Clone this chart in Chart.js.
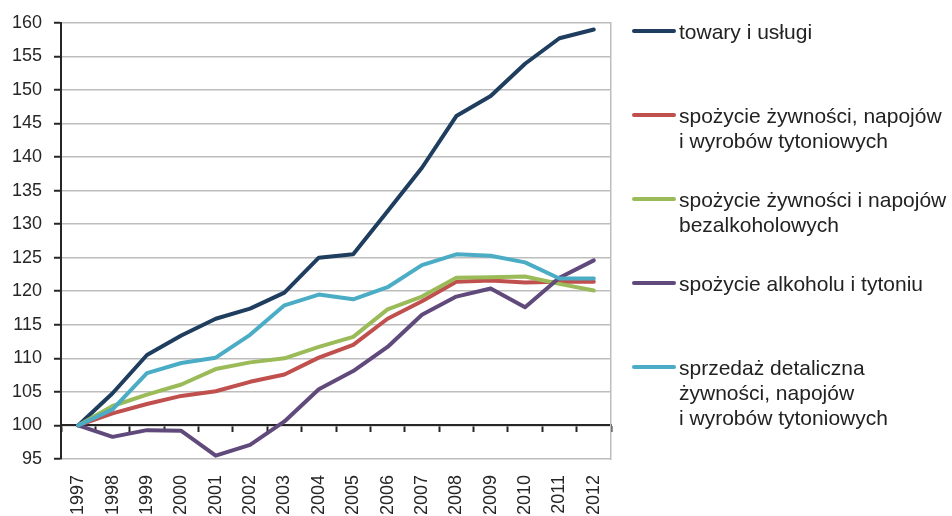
<!DOCTYPE html>
<html lang="pl">
<head>
<meta charset="utf-8">
<script src="https://cdn.jsdelivr.net/npm/chart.js@4.4.1/dist/chart.umd.min.js"></script>
<style>
    body { margin: 0; background: #fff; }
    #wrap { position: relative; width: 952px; height: 516px; }
    #legend { position: absolute; left: 632px; top: 0; font-family: "Liberation Sans", Arial, sans-serif; font-size: 21px; color: #222; }
    .item { position: absolute; left: 0; white-space: nowrap; line-height: 25px; }
    .item .mark { position: absolute; left: 0; top: 10px; width: 44px; height: 4px; border-radius: 2px; }
    .item .txt { position: absolute; left: 47px; top: 0; }
</style>
</head>
<body>
<div id="wrap">
    <canvas id="chart" width="952" height="516"></canvas>
    <div id="legend"></div>
</div>
<script>
'use strict';

const years = ['1997', '1998', '1999', '2000', '2001', '2002', '2003', '2004',
    '2005', '2006', '2007', '2008', '2009', '2010', '2011', '2012'];

const towaryUslugi = [100, 104.8, 110.5, 113.4, 115.9, 117.4, 119.8, 125.0,
    125.5, 131.9, 138.4, 146.1, 149.1, 153.9, 157.7, 159.0];
const spozycieZywnosciTyton = [100, 101.8, 103.2, 104.4, 105.1, 106.5, 107.6, 110.1,
    112.0, 115.9, 118.5, 121.4, 121.6, 121.3, 121.4, 121.4];
const spozycieBezalkoholowe = [100, 102.9, 104.6, 106.1, 108.4, 109.4, 110.0, 111.7,
    113.2, 117.3, 119.2, 122.0, 122.1, 122.2, 121.1, 120.1];
const spozycieAlkoholTyton = [100, 98.3, 99.3, 99.2, 95.5, 97.1, 100.6, 105.4,
    108.1, 111.7, 116.5, 119.2, 120.4, 117.6, 122.0, 124.6];
const sprzedazDetaliczna = [100, 102.4, 107.8, 109.3, 110.1, 113.5, 117.9, 119.5,
    118.8, 120.6, 123.9, 125.5, 125.3, 124.3, 121.9, 121.9];

const seriesLabels = [
    ['towary i usługi'],
    ['spożycie żywności, napojów', 'i wyrobów tytoniowych'],
    ['spożycie żywności i napojów', 'bezalkoholowych'],
    ['spożycie alkoholu i tytoniu'],
    ['sprzedaż detaliczna', 'żywności, napojów', 'i wyrobów tytoniowych']
];
const yTicks = { min: 95, max: 160, step: 5 };

const colors = ['#1F3D5E', '#C0504D', '#9BBB59', '#604A7B', '#4BACC6'];
const values = [towaryUslugi, spozycieZywnosciTyton, spozycieBezalkoholowe,
    spozycieAlkoholTyton, sprzedazDetaliczna];

const font = { family: '"Liberation Sans", Arial, sans-serif', size: 18 };
const dark = '#262626';
const gridGray = '#BDBDBD';

const datasets = values.map((v, i) => ({
    label: seriesLabels[i].join(' '),
    data: v,
    borderColor: colors[i],
    backgroundColor: colors[i],
    borderWidth: 4,
    pointRadius: 0,
    tension: 0,
    borderJoinStyle: 'round',
    borderCapStyle: 'round',
    order: values.length - i,
    xAxisID: 'x',
    yAxisID: 'y'
}));

// eslint-disable-next-line no-undef
const chart = new Chart(document.getElementById('chart'), {
    type: 'line',
    data: { labels: years, datasets: datasets },
    options: {
        responsive: false,
        animation: false,
        layout: { padding: { top: 17, right: 341, left: 0, bottom: 0 } },
        plugins: { legend: { display: false }, tooltip: { enabled: false } },
        scales: {
            x: {
                type: 'category',
                offset: true,
                grid: { display: false, drawTicks: false },
                border: { display: false },
                ticks: { font: font, color: dark, minRotation: 90, maxRotation: 90, autoSkip: false, padding: 16 },
                afterFit: s => { s.height = 57; }
            },
            // axis line with tick marks crossing at 100
            xAxis100: {
                type: 'category',
                labels: years,
                offset: true,
                position: { y: 100 },
                grid: { offset: true, drawOnChartArea: false, drawTicks: true, tickLength: 6, tickColor: dark, tickWidth: 2 },
                border: { display: true, color: dark, width: 2 },
                ticks: { display: false }
            },
            y: {
                min: yTicks.min,
                max: yTicks.max,
                ticks: { stepSize: yTicks.step, font: font, color: dark, padding: 12 },
                grid: { color: gridGray, lineWidth: 1.5, tickLength: 7, tickColor: dark, tickWidth: 2 },
                border: { color: dark, width: 2 },
                afterFit: s => { s.width = 61; }
            },
            yRight: {
                position: 'right',
                min: yTicks.min,
                max: yTicks.max,
                ticks: { display: false },
                grid: { display: false },
                border: { color: gridGray, width: 1.5 },
                afterFit: s => { s.width = 0; }
            }
        }
    }
});

// html legend from the datasets
const legendTop = 31;
const legendStep = 84;
const legend = document.getElementById('legend');
chart.data.datasets.forEach((ds, i) => {
    const item = document.createElement('div');
    item.className = 'item';
    item.style.top = (legendTop + legendStep * i - 12) + 'px';
    const mark = document.createElement('span');
    mark.className = 'mark';
    mark.style.background = ds.borderColor;
    const txt = document.createElement('span');
    txt.className = 'txt';
    txt.innerHTML = seriesLabels[i].join('<br>');
    item.appendChild(mark);
    item.appendChild(txt);
    legend.appendChild(item);
});
</script>
</body>
</html>
